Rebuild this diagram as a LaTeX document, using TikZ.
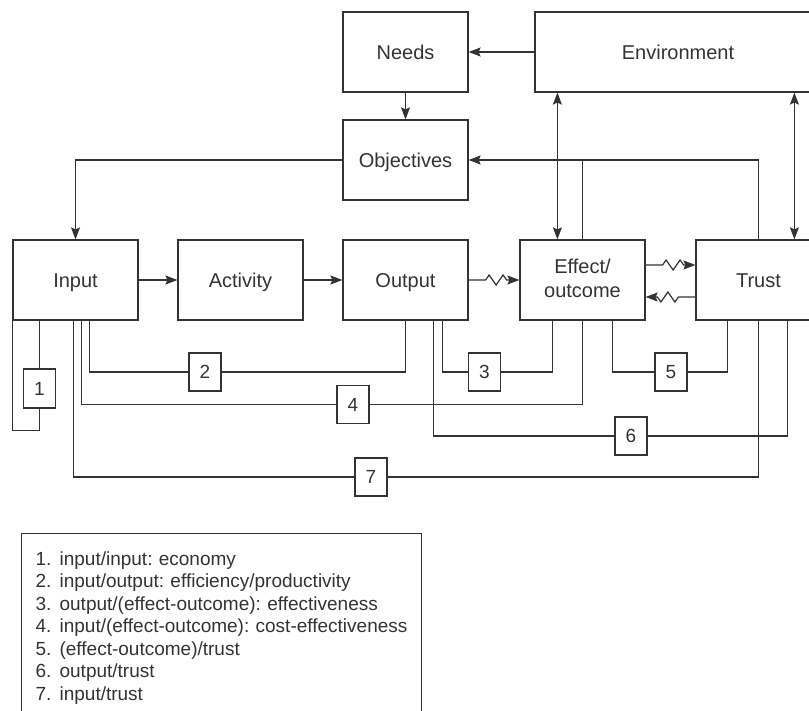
\documentclass[tikz,border=0pt]{standalone}
\usepackage{fontspec}
\setmainfont{Liberation Sans}
\usetikzlibrary{positioning,arrows.meta,decorations.pathmorphing}

\begin{document}
\frenchspacing
\begin{tikzpicture}[
% Change style
	x=1pt, y=-1pt,
	line width=1.2pt,
	color=black!80,
	on grid,
	box/.style={draw, minimum width=125pt, minimum height=80pt, inner sep=0pt,
		text height=14.5pt, text depth=0pt,
		align=center, font=\fontsize{20}{24}\selectfont},
	num/.style={draw, fill=white, minimum width=32pt, minimum height=38pt,
		inner sep=0pt, text height=13.6pt, text depth=0pt,
		font=\fontsize{19}{22}\selectfont},
	post/.style={-{Stealth[length=12pt,width=9pt,inset=2pt]}},
	both/.style={{Stealth[length=12pt,width=9pt,inset=2pt]}-{Stealth[length=12pt,width=9pt,inset=2pt]}},
	wiggle/.style={post, decorate, decoration={zigzag, segment length=14pt,
		amplitude=5pt, pre length=17pt, post length=7pt}},
	legendbox/.style={draw, anchor=north west, inner xsep=14pt, inner ysep=18pt,
		text width=372pt, align=left, font=\fontsize{19}{22.5}\selectfont}]

\clip (0,0) rectangle (809,711);

% Input
\node[box] (input) at (75.5,280) {Input};

% Activity
\node[box, right=165pt of input] (activity) {Activity};

% Output
\node[box, right=165pt of activity] (output) {Output};

% Effect/outcome
\node[box, text height=38.5pt, text depth=2.5pt, right=177pt of output] (effect) {Effect/\\outcome};

% Trust
\node[box, right=176pt of effect] (trust) {Trust};

% Objectives
\node[box, above=120pt of output] (objectives) {Objectives};

% Needs
\node[box, above=108pt of objectives] (needs) {Needs};

% Environment
\node[box, minimum width=286pt, right=272.5pt of needs] (environment) {Environment};

% Ratios
\node[num, minimum height=39pt] (n1) at (39.5,388.5) {1};
\node[num] (n2) at (205,372) {2};
\node[num] (n3) at (484.5,372) {3};
\node[num] (n4) at (353,404.5) {4};
\node[num] (n5) at (671,372) {5};
\node[num] (n6) at (631,436) {6};
\node[num] (n7) at (371,477) {7};

% Legend
\node[legendbox] (legend) at (21,533) {%
	\makebox[24pt][l]{1.}input/input: economy\\
	\makebox[24pt][l]{2.}input/output: efficiency/productivity\\
	\makebox[24pt][l]{3.}output/(effect-outcome): effectiveness\\
	\makebox[24pt][l]{4.}input/(effect-outcome): cost-effectiveness\\
	\makebox[24pt][l]{5.}(effect-outcome)/trust\\
	\makebox[24pt][l]{6.}output/trust\\
	\makebox[24pt][l]{7.}input/trust};

% Connections
\draw (environment) edge[post] (needs)
	(needs) edge[post] (objectives)
	(input) edge[post] (activity)
	(activity) edge[post] (output);
\draw[post] (objectives.west) -| (input.north);
\draw[post] (trust.north) |- (objectives.east);
\draw (effect.north) -- (effect.north |- objectives.east);
\coordinate (envE) at ([xshift=38pt]effect.north west);
\coordinate (envT) at ([xshift=99pt]trust.north west);
\draw[both] (envE) -- (envE |- environment.south);
\draw[both] (envT) -- (envT |- environment.south);

% Wiggly connections
\draw[wiggle] (output) -- (effect);
\draw[wiggle] ([yshift=15pt]effect.east) -- ([yshift=15pt]trust.west);
\draw[wiggle] ([yshift=-17pt]trust.west) -- ([yshift=-17pt]effect.east);

% Ratio lines
\draw (n1.north |- input.south) -- (n1.north);
\draw (n1.south) -- ++(0,22) -| (input.south west);
\draw ([xshift=77pt]input.south west) |- (n2.west);
\draw (n2.east) -| (output.south);
\draw ([xshift=69pt]input.south west) |- (n4.west);
\draw (n4.east) -| (effect.south);
\draw ([xshift=61pt]input.south west) |- (n7.west);
\draw (n7.east) -| (trust.south);
\draw ([xshift=100pt]output.south west) |- (n3.west);
\draw (n3.east) -| ([xshift=33pt]effect.south west);
\draw ([xshift=91pt]output.south west) |- (n6.west);
\draw (n6.east) -| ([xshift=92pt]trust.south west);
\draw ([xshift=93pt]effect.south west) |- (n5.west);
\draw (n5.east) -| ([xshift=32pt]trust.south west);

\end{tikzpicture}
\end{document}
